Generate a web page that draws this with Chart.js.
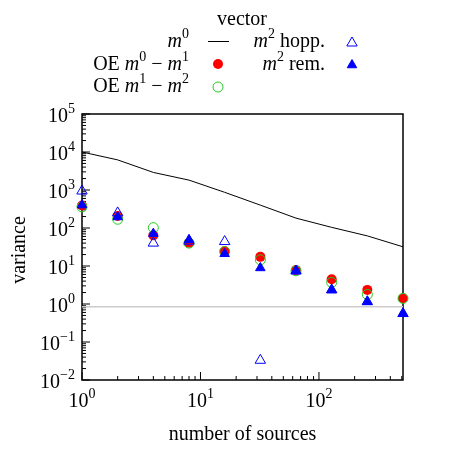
<!DOCTYPE html>
<html><head><meta charset="utf-8">
<script src="https://cdn.jsdelivr.net/npm/chart.js@4/dist/chart.umd.min.js"></script>
<style>html,body{margin:0;padding:0;background:#fff;} canvas{display:block;}</style>
</head><body>
<canvas id="c" width="450" height="450" style="width:450px;height:450px"></canvas>
<script>
// ---- data ----
const sources = [1, 2, 4, 8, 16, 32, 64, 128, 256, 512];
const vectorM0 = [10000, 6200, 2900, 1820, 870, 400, 182, 104, 62, 32];
const oeM0M1 = [390, 207, 64, 41, 24.5, 17.4, 7.8, 4.5, 2.35, 1.42];
const oeM1M2 = [360, 170, 102, 40, 24, 14.5, 7.5, 3.7, 1.78, 1.4];
const m2Hopp = [940, 250, 40, 45, 44, 0.033, 7.4, 2.35, 1.15, 0.56];
const m2Rem = [400, 195, 71, 49, 21, 8.9, 7.4, 2.35, 1.15, 0.56];
const refLevel = 0.85;
const yDecades = [-2, -1, 0, 1, 2, 3, 4, 5];
const xDecades = [0, 1, 2];
const legendTitle = 'vector';
const xTitle = 'number of sources';
const yTitle = 'variance';

const FONT = '"Liberation Serif", "Times New Roman", serif';
const RED = '#ff0000', GREEN = '#22cc22', BLUE = '#0000ff';

function pts(arr) { return sources.map((x, i) => ({x: x, y: arr[i]})); }

function setFont(ctx, p, size) {
  const s = p.sup ? Math.round(size * 0.7) : size;
  ctx.font = (p.it ? 'italic ' : '') + s + 'px ' + FONT;
}
function richWidth(ctx, parts, size) {
  let w = 0;
  parts.forEach(p => { setFont(ctx, p, size); w += ctx.measureText(p.t).width; });
  return w;
}
function drawRich(ctx, parts, x, y, align, size) {
  const w = richWidth(ctx, parts, size);
  let cx = align === 'right' ? x - w : (align === 'center' ? x - w / 2 : x);
  ctx.textAlign = 'left';
  ctx.textBaseline = 'alphabetic';
  parts.forEach(p => {
    setFont(ctx, p, size);
    ctx.fillText(p.t, cx, p.sup ? y - size * 0.45 : y);
    cx += ctx.measureText(p.t).width;
  });
}
function expLabel(e) {
  return [{t: '10'}, {t: (e < 0 ? '\u2212' + (-e) : '' + e), sup: true}];
}
function drawMarker(ctx, style, x, y, r, fill, stroke, lw) {
  ctx.beginPath();
  if (style === 'circle') {
    ctx.arc(x, y, r, 0, Math.PI * 2);
  } else {
    let rad = 0;
    for (let k = 0; k < 3; k++) {
      const px = x + Math.sin(rad) * r, py = y - Math.cos(rad) * r;
      if (k === 0) ctx.moveTo(px, py); else ctx.lineTo(px, py);
      rad += Math.PI * 2 / 3;
    }
    ctx.closePath();
  }
  if (fill) { ctx.fillStyle = fill; ctx.fill(); }
  if (stroke) { ctx.strokeStyle = stroke; ctx.lineWidth = lw; ctx.stroke(); }
}

const framePlugin = {
  id: 'frame',
  beforeDatasetsDraw(chart) {
    const ctx = chart.ctx, a = chart.chartArea;
    const xs = chart.scales.x, ys = chart.scales.y;
    ctx.save();
    ctx.strokeStyle = '#000';
    ctx.lineWidth = 1.5;
    ctx.strokeRect(a.left, a.top, a.right - a.left, a.bottom - a.top);
    ctx.lineWidth = 1;
    ctx.beginPath();
    yDecades.forEach(d => {
      const py = ys.getPixelForValue(Math.pow(10, d));
      ctx.moveTo(a.left, py); ctx.lineTo(a.left + 8, py);
      if (d < yDecades[yDecades.length - 1]) {
        for (let m = 2; m <= 9; m++) {
          const q = ys.getPixelForValue(m * Math.pow(10, d));
          ctx.moveTo(a.left, q); ctx.lineTo(a.left + 4, q);
        }
      }
    });
    xDecades.forEach(d => {
      const px = xs.getPixelForValue(Math.pow(10, d));
      ctx.moveTo(px, a.bottom); ctx.lineTo(px, a.bottom - 8);
      for (let m = 2; m <= 9; m++) {
        const v = m * Math.pow(10, d);
        if (v > 512) break;
        const q = xs.getPixelForValue(v);
        ctx.moveTo(q, a.bottom); ctx.lineTo(q, a.bottom - 4);
      }
    });
    ctx.stroke();
    ctx.restore();
  },
  afterDraw(chart) {
    const ctx = chart.ctx, a = chart.chartArea;
    const xs = chart.scales.x, ys = chart.scales.y;
    ctx.save();
    ctx.fillStyle = '#000';
    yDecades.forEach(d => {
      const py = ys.getPixelForValue(Math.pow(10, d));
      drawRich(ctx, expLabel(d), a.left - 7, py + 8, 'right', 20);
    });
    xDecades.forEach(d => {
      const px = xs.getPixelForValue(Math.pow(10, d));
      drawRich(ctx, expLabel(d), px, 407, 'center', 20);
    });
    drawRich(ctx, [{t: xTitle}], (a.left + a.right) / 2, 440, 'center', 20);
    ctx.save();
    ctx.translate(25, 250);
    ctx.rotate(-Math.PI / 2);
    drawRich(ctx, [{t: yTitle}], 0, 0, 'center', 20);
    ctx.restore();
    drawRich(ctx, [{t: legendTitle}], 242, 25, 'center', 20);
    drawRich(ctx, [{t: 'm', it: true}, {t: '0', sup: true}], 189, 47, 'right', 20);
    drawRich(ctx, [{t: 'OE '}, {t: 'm', it: true}, {t: '0', sup: true}, {t: ' \u2212 '}, {t: 'm', it: true}, {t: '1', sup: true}], 189, 70, 'right', 20);
    drawRich(ctx, [{t: 'OE '}, {t: 'm', it: true}, {t: '1', sup: true}, {t: ' \u2212 '}, {t: 'm', it: true}, {t: '2', sup: true}], 189, 92, 'right', 20);
    drawRich(ctx, [{t: 'm', it: true}, {t: '2', sup: true}, {t: ' hopp.'}], 325, 47, 'right', 20);
    drawRich(ctx, [{t: 'm', it: true}, {t: '2', sup: true}, {t: ' rem.'}], 325, 70, 'right', 20);
    ctx.strokeStyle = '#000'; ctx.lineWidth = 1;
    ctx.beginPath(); ctx.moveTo(208, 41.5); ctx.lineTo(229, 41.5); ctx.stroke();
    drawMarker(ctx, 'circle', 218, 64, 5, RED, null, 0);
    drawMarker(ctx, 'circle', 218, 87, 5, null, GREEN, 1);
    drawMarker(ctx, 'triangle', 352, 43, 6, null, BLUE, 1);
    drawMarker(ctx, 'triangle', 352, 65, 5.5, BLUE, BLUE, 1);
    ctx.restore();
  }
};

new Chart(document.getElementById('c'), {
  type: 'scatter',
  data: {
    datasets: [
      {label: 'ref', data: [{x: sources[0], y: refLevel}, {x: sources[sources.length - 1], y: refLevel}],
       showLine: true, borderColor: '#cccccc', borderWidth: 1.5, pointRadius: 0, order: 6},
      {label: 'm0', data: pts(vectorM0), showLine: true, borderColor: '#000', borderWidth: 1,
       pointRadius: 0, order: 5},
      {label: 'OE m0-m1', data: pts(oeM0M1), pointStyle: 'circle', pointRadius: 5,
       backgroundColor: RED, borderColor: RED, borderWidth: 0, clip: false, order: 4},
      {label: 'OE m1-m2', data: pts(oeM1M2), pointStyle: 'circle', pointRadius: 5,
       backgroundColor: 'rgba(0,0,0,0)', borderColor: GREEN, borderWidth: 1, clip: false, order: 3},
      {label: 'm2 hopp', data: pts(m2Hopp), pointStyle: 'triangle', pointRadius: 6,
       backgroundColor: 'rgba(0,0,0,0)', borderColor: BLUE, borderWidth: 1, clip: false, order: 2},
      {label: 'm2 rem', data: pts(m2Rem), pointStyle: 'triangle', pointRadius: 5.5,
       backgroundColor: BLUE, borderColor: BLUE, borderWidth: 1, clip: false, order: 1}
    ]
  },
  options: {
    responsive: false,
    animation: false,
    events: [],
    layout: {padding: {left: 82, right: 47, top: 114, bottom: 70}},
    plugins: {legend: {display: false}, tooltip: {enabled: false}},
    scales: {
      x: {type: 'logarithmic', min: 1, max: 512, display: false},
      y: {type: 'logarithmic', min: 0.01, max: 100000, display: false}
    }
  },
  plugins: [framePlugin]
});
</script>
</body></html>
